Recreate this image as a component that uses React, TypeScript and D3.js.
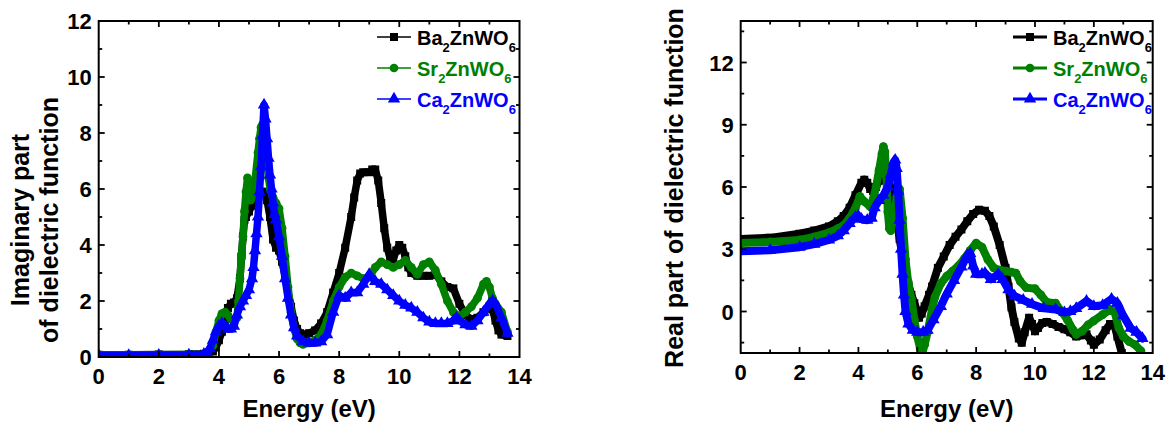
import React, { useEffect, useRef } from 'react';
import * as d3 from 'd3';

type Pt = [number, number];

// imaginary part (eps2), [energy eV, value]
const imagBa: Pt[] = [
  [0, 0.08], [1, 0.08], [2, 0.09], [3, 0.1], [3.5, 0.12], [3.8, 0.2], [3.9, 0.35], [4.0, 0.6],
  [4.1, 0.9], [4.2, 1.3], [4.3, 1.75], [4.4, 1.9], [4.5, 1.95], [4.6, 2.1], [4.7, 2.8], [4.75, 3.6],
  [4.8, 4.3], [4.85, 4.9], [4.9, 5.0], [5.0, 5.2], [5.1, 5.4], [5.2, 5.6], [5.3, 5.8], [5.4, 5.9],
  [5.5, 5.9], [5.6, 5.6], [5.7, 5.0], [5.8, 4.2], [5.9, 3.9], [6.0, 3.8], [6.1, 3.4], [6.2, 2.9],
  [6.3, 2.3], [6.4, 1.8], [6.5, 1.3], [6.6, 1.0], [6.7, 0.85], [6.8, 0.8], [6.9, 0.8], [7.0, 0.85],
  [7.2, 0.95], [7.4, 1.2], [7.6, 1.6], [7.8, 2.3], [8.0, 3.0], [8.2, 3.9], [8.4, 5.0], [8.5, 5.7],
  [8.6, 6.3], [8.7, 6.55], [8.8, 6.6], [9.0, 6.6], [9.1, 6.7], [9.2, 6.7], [9.3, 6.3], [9.4, 5.5],
  [9.5, 4.6], [9.6, 3.9], [9.7, 3.5], [9.8, 3.5], [9.9, 3.8], [10.0, 4.0], [10.1, 3.9], [10.2, 3.6],
  [10.3, 3.2], [10.4, 3.0], [10.6, 2.9], [10.8, 2.9], [11.0, 2.9], [11.2, 2.95], [11.4, 2.7], [11.6, 2.5],
  [11.8, 2.45], [12.0, 1.9], [12.2, 1.5], [12.4, 1.35], [12.6, 1.4], [12.8, 1.6], [13.0, 1.8], [13.1, 1.7],
  [13.2, 1.3], [13.3, 0.95], [13.4, 0.8], [13.6, 0.75],
];
const imagSr: Pt[] = [
  [0, 0.08], [1, 0.08], [2, 0.08], [3, 0.09], [3.5, 0.1], [3.6, 0.15], [3.8, 0.4], [3.9, 0.9],
  [4.0, 1.3], [4.1, 1.55], [4.2, 1.6], [4.3, 1.5], [4.4, 1.35], [4.5, 1.3], [4.6, 1.4], [4.65, 2.0],
  [4.7, 2.8], [4.75, 3.6], [4.8, 4.3], [4.85, 5.2], [4.9, 5.9], [4.95, 6.4], [5.0, 6.0], [5.05, 5.6],
  [5.1, 5.7], [5.2, 6.3], [5.3, 7.3], [5.35, 7.8], [5.4, 8.2], [5.45, 8.3], [5.5, 8.0], [5.55, 7.6],
  [5.6, 6.9], [5.65, 6.4], [5.7, 6.0], [5.8, 5.7], [5.9, 5.5], [6.0, 5.3], [6.1, 4.6], [6.2, 3.6],
  [6.3, 2.5], [6.4, 1.6], [6.5, 1.0], [6.6, 0.65], [6.7, 0.5], [6.8, 0.45], [7.0, 0.5], [7.2, 0.6],
  [7.4, 0.8], [7.6, 1.3], [7.8, 2.0], [8.0, 2.5], [8.2, 2.85], [8.4, 3.0], [8.6, 2.9], [8.8, 2.8],
  [9.0, 2.85], [9.2, 3.2], [9.4, 3.4], [9.6, 3.3], [9.8, 3.2], [10.0, 3.3], [10.2, 3.45], [10.4, 3.2],
  [10.6, 2.95], [10.8, 3.3], [11.0, 3.4], [11.2, 3.1], [11.4, 2.6], [11.6, 2.0], [11.8, 1.6], [12.0, 1.45],
  [12.2, 1.6], [12.4, 1.8], [12.6, 2.1], [12.8, 2.6], [12.9, 2.7], [13.0, 2.5], [13.1, 2.1], [13.2, 1.9],
  [13.4, 1.6], [13.6, 0.9],
];
const imagCa: Pt[] = [
  [0, 0.06], [1, 0.06], [2, 0.07], [3, 0.08], [3.5, 0.1], [3.6, 0.15], [3.7, 0.3], [3.8, 0.6],
  [3.9, 0.9], [4.0, 1.1], [4.1, 1.2], [4.2, 1.1], [4.3, 1.0], [4.4, 1.0], [4.5, 1.1], [4.6, 1.5],
  [4.7, 1.8], [4.8, 2.0], [4.9, 2.2], [5.0, 2.4], [5.1, 2.8], [5.15, 3.2], [5.2, 3.8], [5.25, 4.4],
  [5.3, 5.0], [5.35, 5.9], [5.4, 6.8], [5.45, 7.9], [5.5, 9.0], [5.55, 8.5], [5.6, 7.8], [5.65, 7.1],
  [5.7, 6.5], [5.75, 6.0], [5.8, 5.5], [5.85, 5.1], [5.9, 4.9], [6.0, 4.3], [6.1, 3.6], [6.2, 2.8],
  [6.3, 2.1], [6.4, 1.5], [6.5, 1.05], [6.6, 0.75], [6.8, 0.55], [7.0, 0.5], [7.2, 0.5], [7.4, 0.55],
  [7.6, 0.8], [7.8, 1.6], [8.0, 2.2], [8.2, 2.1], [8.4, 2.3], [8.6, 2.3], [8.8, 2.6], [9.0, 2.95],
  [9.2, 2.7], [9.4, 2.6], [9.6, 2.4], [9.8, 2.2], [10.0, 2.0], [10.2, 1.85], [10.4, 1.75], [10.6, 1.6],
  [10.8, 1.4], [11.0, 1.25], [11.2, 1.2], [11.4, 1.2], [11.6, 1.2], [11.8, 1.3], [11.9, 1.4], [12.0, 1.3],
  [12.2, 1.15], [12.4, 1.1], [12.6, 1.3], [12.8, 1.6], [13.0, 1.9], [13.1, 2.0], [13.2, 1.9], [13.4, 1.4],
  [13.6, 0.85],
];

// real part (eps1)
const realBa: Pt[] = [
  [0, 3.5], [1, 3.55], [2, 3.75], [2.5, 3.9], [3, 4.1], [3.3, 4.35], [3.5, 4.6], [3.7, 5.0],
  [3.9, 5.6], [4.1, 6.2], [4.2, 6.35], [4.3, 6.2], [4.4, 5.9], [4.5, 5.8], [4.6, 6.0], [4.7, 6.3],
  [4.8, 6.6], [4.9, 6.8], [5.0, 6.6], [5.1, 5.9], [5.2, 5.1], [5.3, 4.5], [5.4, 3.5], [5.5, 2.7],
  [5.6, 1.9], [5.7, 1.3], [5.8, 0.8], [5.9, 0.4], [6.0, 0.0], [6.06, -0.3], [6.15, -0.1], [6.25, 0.25],
  [6.4, 0.8], [6.5, 1.2], [6.7, 2.1], [6.9, 2.65], [7.1, 3.2], [7.3, 3.6], [7.5, 3.95], [7.7, 4.35],
  [7.9, 4.7], [8.1, 4.9], [8.3, 4.85], [8.45, 4.6], [8.6, 4.1], [8.8, 3.2], [9.0, 2.1], [9.1, 1.2],
  [9.2, 0.2], [9.3, -0.5], [9.45, -1.3], [9.55, -1.5], [9.65, -1.0], [9.8, -0.3], [9.9, -0.6], [10.0, -0.95],
  [10.1, -0.8], [10.25, -0.55], [10.4, -0.5], [10.6, -0.6], [10.8, -0.75], [11.0, -0.85], [11.2, -1.0], [11.4, -1.2],
  [11.6, -1.15], [11.75, -1.1], [11.9, -1.4], [12.0, -1.6], [12.2, -1.35], [12.4, -0.9], [12.55, -0.6], [12.7, -0.65],
  [12.8, -1.2], [12.95, -2.0], [13.1, -2.5],
];
const realSr: Pt[] = [
  [0, 3.3], [1, 3.35], [2, 3.45], [2.5, 3.6], [3, 3.8], [3.3, 4.0], [3.5, 4.15], [3.7, 4.5],
  [3.9, 5.0], [4.05, 5.55], [4.2, 5.3], [4.4, 5.05], [4.5, 5.4], [4.6, 6.0], [4.7, 6.8], [4.8, 7.6],
  [4.85, 7.95], [4.9, 7.7], [4.95, 6.5], [5.0, 4.8], [5.05, 4.0], [5.1, 3.9], [5.2, 4.6], [5.3, 5.5],
  [5.4, 5.9], [5.5, 4.5], [5.6, 2.5], [5.7, 1.3], [5.8, 0.6], [5.9, -0.4], [6.0, -1.2], [6.1, -1.8],
  [6.17, -2.0], [6.25, -1.6], [6.35, -1.0], [6.5, 0.1], [6.6, 0.7], [6.8, 1.35], [7.0, 1.7], [7.2, 1.95],
  [7.4, 2.2], [7.6, 2.55], [7.8, 2.95], [8.0, 3.3], [8.2, 3.1], [8.4, 2.5], [8.6, 2.1], [8.8, 2.0],
  [9.0, 1.95], [9.2, 1.9], [9.35, 1.85], [9.5, 1.45], [9.7, 1.15], [10.0, 1.1], [10.2, 0.8], [10.4, 0.45],
  [10.7, 0.4], [10.9, 0.0], [11.1, -0.4], [11.3, -0.9], [11.4, -1.1], [11.6, -0.95], [11.8, -0.65], [12.0, -0.45],
  [12.3, -0.15], [12.55, 0.1], [12.7, 0.0], [12.85, -0.8], [13.0, -1.2], [13.2, -1.45], [13.4, -1.6], [13.6, -1.9],
];
const realCa: Pt[] = [
  [0, 2.9], [1, 2.95], [2, 3.1], [2.5, 3.25], [3, 3.45], [3.3, 3.65], [3.5, 3.9], [3.7, 4.25],
  [3.9, 4.55], [4.0, 4.6], [4.1, 4.45], [4.3, 4.4], [4.45, 4.5], [4.55, 5.0], [4.7, 5.35], [4.85, 5.6],
  [5.0, 6.0], [5.1, 6.6], [5.2, 7.2], [5.25, 7.3], [5.3, 6.9], [5.35, 5.8], [5.4, 4.4], [5.45, 3.0],
  [5.5, 1.8], [5.55, 0.8], [5.6, 0.0], [5.7, -0.6], [5.85, -0.9], [6.0, -1.0], [6.2, -1.0], [6.35, -0.9],
  [6.55, -0.4], [6.8, 0.25], [7.0, 0.85], [7.25, 1.5], [7.5, 2.15], [7.7, 2.7], [7.8, 2.8], [7.9, 2.2],
  [8.0, 1.8], [8.2, 1.8], [8.3, 1.85], [8.5, 1.55], [8.75, 1.8], [8.9, 1.55], [9.1, 1.05], [9.3, 0.75],
  [9.6, 0.55], [9.9, 0.35], [10.3, 0.15], [10.7, 0.1], [11.0, -0.05], [11.2, 0.0], [11.4, 0.15], [11.75, 0.5],
  [12.0, 0.25], [12.3, 0.3], [12.6, 0.6], [12.8, 0.4], [13.0, -0.2], [13.25, -0.8], [13.45, -1.0], [13.65, -1.3],
];

const compounds = [
  { pre: 'Ba', color: '#000000', symbol: d3.symbolSquare, size: 64 },
  { pre: 'Sr', color: '#008000', symbol: d3.symbolCircle, size: 60 },
  { pre: 'Ca', color: '#0000ff', symbol: d3.symbolTriangle, size: 66 },
];

const energyTicks = [0, 2, 4, 6, 8, 10, 12, 14];
const energyMinor = [1, 3, 5, 7, 9, 11, 13];
const imagTicks = [0, 2, 4, 6, 8, 10, 12];
const imagMinor = [1, 3, 5, 7, 9, 11];
const realTicks = [0, 3, 6, 9, 12];
const realMinor = [-1.5, 1.5, 4.5, 7.5, 10.5, 13.5];

const FONT = '"Liberation Sans", Arial, Helvetica, sans-serif';

type Panel = {
  id: string;
  left: number; right: number; top: number; bottom: number;
  yDomain: [number, number];
  yTicks: number[]; yMinor: number[];
  series: Pt[][];
  titleLines: string[];
  titleX: number[];
  titleY: number;
  legendX: number; legendLineW: number;
  bandWidth: number;
};

const panels: Panel[] = [
  {
    id: 'imag', left: 98.7, right: 519.5, top: 21, bottom: 357,
    yDomain: [0, 12], yTicks: imagTicks, yMinor: imagMinor,
    series: [imagBa, imagSr, imagCa],
    titleLines: ['Imaginary part', 'of dielectric function'], titleX: [29, 58], titleY: 220,
    legendX: 377, legendLineW: 1.5, bandWidth: 7.5,
  },
  {
    id: 'real', left: 740.7, right: 1152.7, top: 21, bottom: 353,
    yDomain: [-2, 14], yTicks: realTicks, yMinor: realMinor,
    series: [realBa, realSr, realCa],
    titleLines: ['Real part of dielectric function'], titleX: [683], titleY: 188,
    legendX: 1013, legendLineW: 3, bandWidth: 8,
  },
];

const App = () => {
  const svgRef = useRef<SVGSVGElement>(null);

  useEffect(() => {
    if (!svgRef.current) return;
    const svg = d3.select(svgRef.current);
    svg.selectAll('*').remove();

    panels.forEach(p => {
      const x = d3.scaleLinear().domain([0, 14]).range([p.left, p.right]);
      const y = d3.scaleLinear().domain(p.yDomain).range([p.bottom, p.top]);

      svg.append('clipPath').attr('id', `clip-${p.id}`)
        .append('rect')
        .attr('x', p.left).attr('y', p.top)
        .attr('width', p.right - p.left).attr('height', p.bottom - p.top);

      const plot = svg.append('g').attr('clip-path', `url(#clip-${p.id})`);
      const line = d3.line<Pt>().x(d => x(d[0])).y(d => y(d[1]));

      p.series.forEach((data, i) => {
        const c = compounds[i];
        plot.append('path')
          .attr('d', line(data))
          .attr('fill', 'none')
          .attr('stroke', c.color)
          .attr('stroke-width', p.bandWidth)
          .attr('stroke-linejoin', 'round')
          .attr('stroke-linecap', 'round');
        plot.selectAll(null)
          .data(data)
          .enter()
          .append('path')
          .attr('d', d3.symbol().type(c.symbol).size(c.size)())
          .attr('transform', d => `translate(${x(d[0])},${y(d[1])})`)
          .attr('fill', c.color);
      });

      // frame
      svg.append('rect')
        .attr('x', p.left).attr('y', p.top)
        .attr('width', p.right - p.left).attr('height', p.bottom - p.top)
        .attr('fill', 'none').attr('stroke', '#000').attr('stroke-width', 2);

      const ticks = svg.append('g').attr('stroke', '#000').attr('stroke-width', 1.8);
      const xt = (vals: number[], len: number) => vals.forEach(v => {
        ticks.append('line').attr('x1', x(v)).attr('x2', x(v)).attr('y1', p.bottom).attr('y2', p.bottom - len);
        ticks.append('line').attr('x1', x(v)).attr('x2', x(v)).attr('y1', p.top).attr('y2', p.top + len);
      });
      const yt = (vals: number[], len: number) => vals.forEach(v => {
        ticks.append('line').attr('x1', p.left).attr('x2', p.left + len).attr('y1', y(v)).attr('y2', y(v));
        ticks.append('line').attr('x1', p.right).attr('x2', p.right - len).attr('y1', y(v)).attr('y2', y(v));
      });
      xt(energyTicks.slice(1, -1), 6);
      xt(energyMinor, 3.5);
      yt(p.yTicks.filter(v => v > p.yDomain[0] && v < p.yDomain[1]), 6);
      yt(p.yMinor, 3.5);

      svg.append('g').selectAll(null)
        .data(energyTicks).enter().append('text')
        .attr('x', d => x(d)).attr('y', p.bottom + 27)
        .attr('text-anchor', 'middle')
        .style('font', `bold 22px ${FONT}`)
        .text(d => d);

      svg.append('g').selectAll(null)
        .data(p.yTicks).enter().append('text')
        .attr('x', p.left - 7).attr('y', d => y(d) + 8)
        .attr('text-anchor', 'end')
        .style('font', `bold 22px ${FONT}`)
        .text(d => d);

      svg.append('text')
        .attr('x', (p.left + p.right) / 2).attr('y', 417)
        .attr('text-anchor', 'middle')
        .style('font', `bold 24px ${FONT}`)
        .text('Energy (eV)');

      p.titleLines.forEach((t, i) => {
        svg.append('text')
          .attr('transform', `translate(${p.titleX[i]},${p.titleY}) rotate(-90)`)
          .attr('text-anchor', 'middle')
          .style('font', `bold 25px ${FONT}`)
          .text(t);
      });

      // legend
      compounds.forEach((c, i) => {
        const base = 45 + i * 31;
        const cy = base - 8;
        svg.append('line')
          .attr('x1', p.legendX).attr('x2', p.legendX + 34)
          .attr('y1', cy).attr('y2', cy)
          .attr('stroke', c.color).attr('stroke-width', p.legendLineW);
        svg.append('path')
          .attr('d', d3.symbol().type(c.symbol).size(c.size)())
          .attr('transform', `translate(${p.legendX + 17},${cy})`)
          .attr('fill', c.color);
        const t = svg.append('text')
          .attr('x', p.legendX + 40).attr('y', base)
          .attr('fill', c.color)
          .style('font', `bold 20px ${FONT}`);
        t.append('tspan').text(c.pre);
        t.append('tspan').attr('dy', 7).style('font-size', '13px').text('2');
        t.append('tspan').attr('dy', -7).text('ZnWO');
        t.append('tspan').attr('dy', 7).style('font-size', '13px').text('6');
      });
    });
  }, []);

  return (
    <svg ref={svgRef} width={1170} height={425}
      style={{ position: 'absolute', left: 0, top: 0, background: '#fff' }} />
  );
};

export default App;
